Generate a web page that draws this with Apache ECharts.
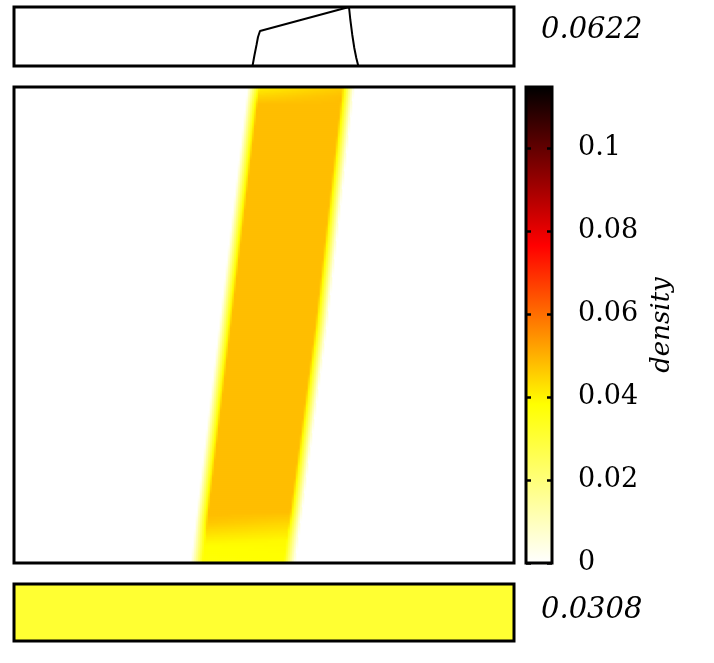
<!DOCTYPE html>
<html><head><meta charset="utf-8">
<script src="https://cdn.jsdelivr.net/npm/echarts@6/dist/echarts.min.js"></script>
<style>html,body{margin:0;padding:0;background:#fff}#c{width:714px;height:663px}</style>
</head><body><div id="c"></div>
<script>
// ---------------- data ----------------
const densityMax = 0.1148;
const colorbarTicks = [0, 0.02, 0.04, 0.06, 0.08, 0.1];
const colormap = ['#ffffff', '#ffff00', '#ff0000', '#000000'];
const topMarginalLabel = '0.0622';
const bottomMarginalLabel = '0.0308';
const colorbarTitle = 'density';
const topMarginalMax = 0.0622;
const bottomMarginalValue = 0.0308;
// top marginal curve (x in panel units 0..100, density)
const topCurveX = [47.7, 48.1, 48.5, 48.8, 49.2, 49.3, 67.0, 67.27, 67.66, 68.06, 68.46, 68.86];
const topCurveY = [0, 0.0116, 0.0221, 0.0306, 0.0369, 0.0374, 0.0622, 0.0485, 0.0327, 0.019, 0.0084, 0];
// band edges (x, panel units) at heights y (0 = bottom, 100 = top)
const bandEdgeY = [0, 50, 100];
const bandLeftX = [36.55, 42.26, 47.95];
const bandRightX = [55.11, 61.5, 66.9];
const bandEdgeWidth = 2.4;
// density inside the band along its left side and its right side
const profileLeftY = [0, 3.8, 6.3, 8.6, 10, 96.5, 98.3, 100];
const profileLeft = [0.037, 0.0385, 0.043, 0.047, 0.048, 0.048, 0.044, 0.040];
const profileRightY = [0, 4.8, 8.6, 10.7, 98, 100];
const profileRight = [0.038, 0.039, 0.0445, 0.048, 0.048, 0.046];
// ------------------------------------------------------------

const NX = 250, NY = 238;
function interp(xs, ys, x) {
  if (x <= xs[0]) return ys[0];
  for (let k = 1; k < xs.length; k++) {
    if (x <= xs[k]) { const t = (x - xs[k - 1]) / (xs[k] - xs[k - 1]); return ys[k - 1] + t * (ys[k] - ys[k - 1]); }
  }
  return ys[ys.length - 1];
}
const clamp = (v) => Math.max(0, Math.min(1, v));
const xCats = [], yCats = [];
for (let i = 0; i < NX; i++) xCats.push(String(i));
for (let j = 0; j < NY; j++) yCats.push(String(j));
const mainData = [];
for (let j = 0; j < NY; j++) {
  const y = (j + 0.5) * 100 / NY;
  const L = interp(bandEdgeY, bandLeftX, y), R = interp(bandEdgeY, bandRightX, y);
  const dL = interp(profileLeftY, profileLeft, y), dR = interp(profileRightY, profileRight, y);
  const w = bandEdgeWidth;
  for (let i = 0; i < NX; i++) {
    const x = (i + 0.5) * 100 / NX;
    if (x < L - w / 2 || x > R + w / 2) continue;
    const ramp = clamp((x - (L - w / 2)) / w) * clamp(((R + w / 2) - x) / w);
    const f = clamp((x - L) / (R - L));
    const v = (dL + (dR - dL) * f) * ramp;
    if (v > 0) mainData.push([i, j, v]);
  }
}
const topLine = topCurveX.map((x, k) => [x, topCurveY[k]]);
const barGradient = new echarts.graphic.LinearGradient(0, 1, 0, 0,
  colormap.map((c, k) => ({ offset: k / (colormap.length - 1), color: c })));

const chart = echarts.init(document.getElementById('c'), null, { renderer: 'canvas' });
const border = { show: true, borderColor: '#000', borderWidth: 3, backgroundColor: 'transparent', z: 10 };
const serif = 'DejaVu Serif';
const tickStyle = { show: true, inside: true, length: 5, lineStyle: { color: '#000', width: 2.5 } };
chart.setOption({
  animation: false,
  backgroundColor: '#fff',
  grid: [
    Object.assign({ left: 14, top: 7, width: 500, height: 59 }, border),
    Object.assign({ left: 14, top: 87, width: 500, height: 476 }, border),
    Object.assign({ left: 14, top: 584, width: 500, height: 57 }, border),
    Object.assign({ left: 526, top: 87, width: 26, height: 476 }, border)
  ],
  xAxis: [
    { gridIndex: 0, type: 'value', min: 0, max: 100, show: false },
    { gridIndex: 1, type: 'category', data: xCats, show: false },
    { gridIndex: 2, type: 'category', data: ['all'], show: false },
    { gridIndex: 3, type: 'category', data: ['bar'], show: false }
  ],
  yAxis: [
    { gridIndex: 0, type: 'value', min: 0, max: topMarginalMax, show: false },
    { gridIndex: 1, type: 'category', data: yCats, show: false },
    { gridIndex: 2, type: 'category', data: ['all'], show: false },
    { gridIndex: 3, type: 'value', min: 0, max: densityMax, interval: 0.02, position: 'right', z: 12,
      axisLine: { show: false }, splitLine: { show: false }, axisTick: tickStyle,
      axisLabel: { show: true, margin: 26, color: '#000', fontFamily: serif, fontSize: 27, showMaxLabel: false,
        formatter: (v) => colorbarTicks.some(t => Math.abs(t - v) < 1e-9) ? String(+v.toFixed(4)) : '' } },
    { gridIndex: 3, type: 'value', min: 0, max: densityMax, interval: 0.02, position: 'left', z: 12,
      axisLine: { show: false }, splitLine: { show: false }, axisLabel: { show: false }, axisTick: tickStyle }
  ],
  visualMap: {
    type: 'continuous', min: 0, max: densityMax, seriesIndex: [1, 2], dimension: 2,
    inRange: { color: colormap }, show: false
  },
  series: [
    { type: 'line', xAxisIndex: 0, yAxisIndex: 0, data: topLine, showSymbol: false, symbol: 'none',
      lineStyle: { color: '#000', width: 2 }, clip: true },
    { type: 'heatmap', xAxisIndex: 1, yAxisIndex: 1, data: mainData, progressive: 0,
      itemStyle: { borderWidth: 0 }, emphasis: { disabled: true } },
    { type: 'heatmap', xAxisIndex: 2, yAxisIndex: 2, data: [[0, 0, bottomMarginalValue]], progressive: 0,
      itemStyle: { borderWidth: 0 }, emphasis: { disabled: true } },
    { type: 'bar', xAxisIndex: 3, yAxisIndex: 3, data: [densityMax], barWidth: '100%', silent: true,
      itemStyle: { color: barGradient }, emphasis: { disabled: true } }
  ],
  graphic: [
    { type: 'text', left: 541, top: 16, style: { text: topMarginalLabel, font: 'italic 29px "DejaVu Serif"', fill: '#000' } },
    { type: 'text', left: 541, top: 596, style: { text: bottomMarginalLabel, font: 'italic 29px "DejaVu Serif"', fill: '#000' } },
    { type: 'text', x: 662, y: 325, rotation: Math.PI / 2,
      style: { text: colorbarTitle, font: 'italic 26px "DejaVu Serif"', fill: '#000', align: 'center', verticalAlign: 'middle' } }
  ]
});
</script></body></html>
